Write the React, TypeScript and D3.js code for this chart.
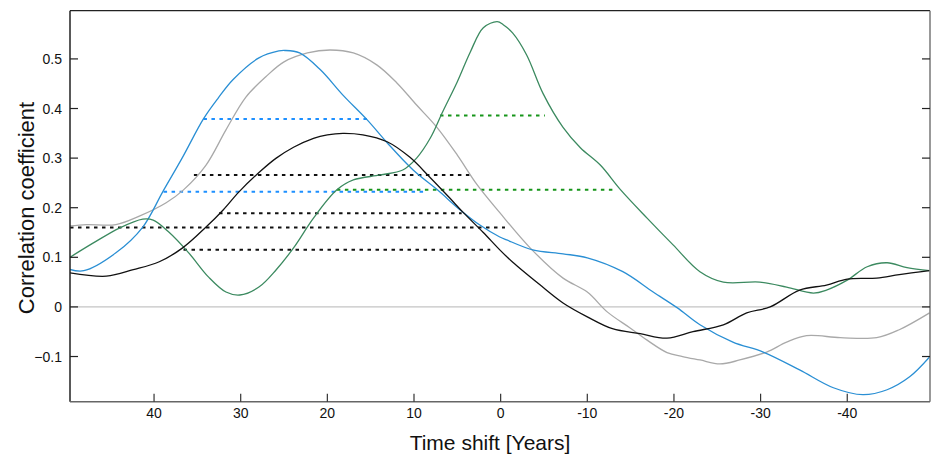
import React from "react";
import * as d3 from "d3";

// time shift (years) and correlation coefficient pairs
const blueT = [49.8, 48.1, 44.4, 41.3, 39.0, 36.7, 34.3, 32.6, 30.9, 27.9, 25.6, 24.9, 23.2, 20.8, 18.2, 15.4, 13.1, 10.1, 7.3, 4.7, 2.4, 0.1, -0.7, -3.7, -7.2, -10.0, -14.1, -17.6, -20.4, -23.0, -26.8, -30.3, -34.5, -38.4, -41.8, -44.6, -47.2, -49.5];
const blueV = [0.076, 0.073, 0.109, 0.161, 0.232, 0.302, 0.379, 0.421, 0.458, 0.502, 0.516, 0.517, 0.512, 0.478, 0.427, 0.377, 0.331, 0.276, 0.236, 0.196, 0.165, 0.141, 0.135, 0.115, 0.107, 0.099, 0.071, 0.030, -0.002, -0.036, -0.071, -0.091, -0.127, -0.163, -0.177, -0.167, -0.141, -0.101];

const grayT = [49.8, 47.8, 44.4, 41.7, 38.6, 36.6, 34.0, 31.7, 29.4, 27.1, 25.0, 22.3, 19.7, 17.0, 14.3, 12.0, 9.7, 7.4, 5.0, 2.7, 0.1, -3.4, -7.2, -10.0, -12.3, -14.9, -16.9, -19.2, -21.0, -23.0, -25.3, -27.6, -30.7, -33.0, -35.3, -39.2, -43.4, -46.0, -49.5];
const grayV = [0.163, 0.166, 0.166, 0.183, 0.210, 0.236, 0.286, 0.357, 0.423, 0.464, 0.494, 0.512, 0.518, 0.512, 0.488, 0.452, 0.407, 0.363, 0.306, 0.246, 0.190, 0.119, 0.058, 0.030, -0.010, -0.042, -0.067, -0.092, -0.100, -0.107, -0.115, -0.107, -0.091, -0.071, -0.058, -0.062, -0.062, -0.046, -0.012];

const blackT = [49.8, 45.5, 42.4, 39.4, 36.7, 34.0, 32.0, 30.2, 27.7, 25.9, 23.9, 21.6, 20.0, 18.2, 15.9, 13.1, 10.5, 8.2, 5.9, 4.3, 2.0, 0.1, -1.4, -4.5, -7.2, -10.0, -12.9, -16.1, -19.2, -22.2, -25.7, -28.4, -31.1, -34.5, -37.6, -40.0, -43.4, -46.0, -49.5];
const blackV = [0.069, 0.062, 0.075, 0.091, 0.119, 0.161, 0.196, 0.232, 0.274, 0.300, 0.322, 0.340, 0.347, 0.350, 0.347, 0.333, 0.302, 0.262, 0.220, 0.190, 0.150, 0.115, 0.090, 0.045, 0.008, -0.020, -0.044, -0.054, -0.063, -0.050, -0.036, -0.012, 0.000, 0.034, 0.044, 0.056, 0.058, 0.065, 0.073];

const greenT = [49.8, 47.0, 44.0, 41.3, 40.1, 38.3, 36.0, 33.7, 31.7, 30.1, 27.9, 25.9, 23.9, 21.6, 18.9, 17.0, 13.9, 11.3, 9.7, 8.1, 6.7, 5.0, 3.5, 2.0, 0.4, -0.3, -1.4, -3.0, -4.9, -7.2, -9.2, -11.5, -13.8, -16.9, -19.9, -23.0, -25.7, -29.9, -33.0, -36.1, -37.6, -40.0, -42.3, -44.6, -46.9, -49.5];
const greenV = [0.099, 0.129, 0.159, 0.177, 0.175, 0.151, 0.109, 0.060, 0.030, 0.024, 0.040, 0.075, 0.119, 0.179, 0.236, 0.256, 0.266, 0.276, 0.300, 0.341, 0.393, 0.454, 0.514, 0.563, 0.575, 0.569, 0.552, 0.508, 0.430, 0.362, 0.321, 0.286, 0.237, 0.179, 0.125, 0.071, 0.050, 0.050, 0.040, 0.028, 0.034, 0.054, 0.081, 0.089, 0.079, 0.073];

// dotted significance levels: start shift, end shift, value
const refStart = [34.3, 38.9, 35.4, 32.5, 49.7, 36.6, 7.0, 18.9];
const refEnd = [15.4, 8.7, 3.5, 4.5, -0.5, 1.2, -5.1, -13.0];
const refValue = [0.379, 0.232, 0.266, 0.189, 0.160, 0.115, 0.386, 0.236];
const refSeries = ["blue", "blue", "black", "black", "black", "black", "green", "green"];

const xTicks = [40, 30, 20, 10, 0, -10, -20, -30, -40];
const yTicks = [-0.1, 0, 0.1, 0.2, 0.3, 0.4, 0.5];

const lineColors: Record<string, string> = {
  blue: "#2a8fd4",
  gray: "#a9a9a9",
  black: "#111111",
  green: "#3c8a60",
};
const refColors: Record<string, string> = {
  blue: "#1e90ff",
  black: "#111111",
  green: "#17951a",
};

export default function App() {
  const W = 933;
  const H = 455;
  const left = 70;
  const right = 930;
  const top = 10.7;
  const bottom = 401.7;
  const x = d3.scaleLinear().domain([49.7, -49.55]).range([left, right]);
  const y = d3.scaleLinear().domain([-0.1911, 0.5972]).range([bottom, top]);

  const line = d3
    .line<[number, number]>()
    .x((d) => x(d[0]))
    .y((d) => y(d[1]))
    .curve(d3.curveCatmullRom.alpha(0.5));

  const series = [
    { key: "gray", t: grayT, v: grayV },
    { key: "blue", t: blueT, v: blueV },
    { key: "green", t: greenT, v: greenV },
    { key: "black", t: blackT, v: blackV },
  ];

  const font = "'Liberation Sans', Arial, sans-serif";

  return (
    <svg
      width={W}
      height={H}
      style={{ position: "absolute", left: 0, top: 0, background: "#fff" }}
      fontFamily={font}
    >
      <defs>
        <clipPath id="plot">
          <rect x={left} y={top} width={right - left} height={bottom - top} />
        </clipPath>
      </defs>
      {/* zero line */}
      <line x1={left} x2={right} y1={y(0)} y2={y(0)} stroke="#c4c4c4" strokeWidth={1.3} />

      {/* dotted reference levels */}
      <g>
        {refValue.map((v, i) => (
          <line
            key={i}
            x1={x(refStart[i])}
            x2={x(refEnd[i])}
            y1={y(v)}
            y2={y(v)}
            stroke={refColors[refSeries[i]]}
            strokeWidth={2}
            strokeDasharray="3.5,4.5"
          />
        ))}
      </g>

      <g clipPath="url(#plot)">
        {series.map((s) => (
          <path
            key={s.key}
            d={line(s.t.map((t, i) => [t, s.v[i]] as [number, number])) || ""}
            fill="none"
            stroke={lineColors[s.key]}
            strokeWidth={1.3}
          />
        ))}
      </g>

      {/* frame */}
      <line x1={left} x2={right} y1={top} y2={top} stroke="#222" strokeWidth={1.2} />
      <line x1={right} x2={right} y1={top} y2={bottom} stroke="#777" strokeWidth={1.5} />
      <line x1={left} x2={left} y1={top} y2={bottom} stroke="#222" strokeWidth={1.5} />
      <line x1={left} x2={right} y1={bottom} y2={bottom} stroke="#666" strokeWidth={1.6} />

      {/* y ticks */}
      {yTicks.map((v) => (
        <g key={v}>
          <line x1={left} x2={left + 8} y1={y(v)} y2={y(v)} stroke="#222" strokeWidth={1.2} />
          <line x1={right - 8} x2={right} y1={y(v)} y2={y(v)} stroke="#222" strokeWidth={1.2} />
          <text x={62} y={y(v)} dy="0.36em" textAnchor="end" fontSize={14} fill="#111">
            {v === 0 ? "0" : d3.format(".1f")(v)}
          </text>
        </g>
      ))}

      {/* x ticks */}
      {xTicks.map((t) => (
        <g key={t}>
          <line x1={x(t)} x2={x(t)} y1={bottom} y2={bottom - 8} stroke="#333" strokeWidth={1.2} />
          <text x={x(t)} y={418} textAnchor="middle" fontSize={14} fill="#111">
            {t}
          </text>
        </g>
      ))}

      <text x={490} y={450} textAnchor="middle" fontSize={21} fill="#111">
        Time shift [Years]
      </text>
      <text
        transform={`translate(34,208) rotate(-90)`}
        textAnchor="middle"
        fontSize={22}
        fill="#111"
      >
        Correlation coefficient
      </text>
    </svg>
  );
}
